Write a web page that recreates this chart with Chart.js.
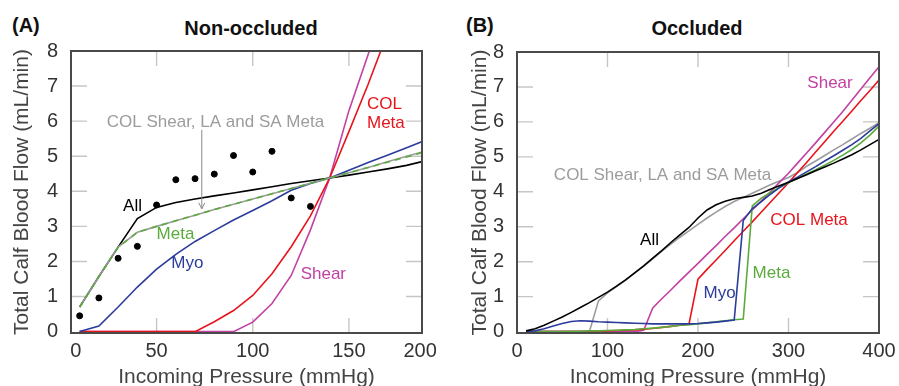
<!DOCTYPE html>
<html>
<head>
<meta charset="utf-8">
<script src="https://cdn.jsdelivr.net/npm/chart.js@4.4.0/dist/chart.umd.min.js"></script>
<style>
  body { margin: 0; background: #fff; width: 899px; height: 386px; overflow: hidden; position: relative; font-family: "Liberation Sans", Arial, sans-serif; }
  canvas { position: absolute; top: 0; }
  #chartA { left: 0; }
  #chartB { left: 450px; }
  .head { position: absolute; font-weight: bold; font-size: 20px; line-height: 20px; color: #111; white-space: nowrap; }
  .title { width: 200px; text-align: center; }
</style>
</head>
<body>
<div class="head" style="left:12px;top:15px">(A)</div>
<div class="head title" style="left:151px;top:18px">Non-occluded</div>
<div class="head" style="left:466px;top:15px">(B)</div>
<div class="head title" style="left:597px;top:18px">Occluded</div>
<canvas id="chartA" width="450" height="386"></canvas>
<canvas id="chartB" width="449" height="386"></canvas>
<script>
// ---- Panel A: non-occluded ----
const xA = [10, 20, 30, 40, 50, 60, 70, 80, 90, 100, 110, 120, 130, 140, 150, 160, 170, 180, 190];
const allA     = [0.70, 1.57, 2.41, 3.22, 3.54, 3.68, 3.78, 3.87, 3.95, 4.04, 4.13, 4.22, 4.30, 4.38, 4.46, 4.55, 4.64, 4.74, 4.87];
const metaA    = [0.70, 1.57, 2.41, 2.83, 3.00, 3.16, 3.32, 3.48, 3.63, 3.78, 3.93, 4.08, 4.23, 4.38, 4.53, 4.68, 4.83, 4.98, 5.13];
const grayA    = [0.70, 1.57, 2.41, 2.83, 3.00, 3.16, 3.32, 3.48, 3.63, 3.78, 3.93, 4.08, 4.23, 4.38, 4.53, 4.68, 4.84, 5.00, 5.15];
const myoA     = [0.00, 0.16, 0.70, 1.27, 1.78, 2.20, 2.57, 2.88, 3.18, 3.45, 3.73, 4.03, 4.22, 4.38, 4.60, 4.82, 5.03, 5.24, 5.46];
const colMetaA = [0, 0, 0, 0, 0, 0, 0, 0.28, 0.60, 1.03, 1.65, 2.42, 3.30, 4.38, 5.70, 7.05, 8.50, 9.9, 11.3];
const shearA   = [0, 0, 0, 0, 0, 0, 0, 0, 0, 0.27, 0.80, 1.60, 2.90, 4.38, 6.30, 7.90, 9.60, 11.3, 13.0];
const dotXA = [10, 20, 30, 40, 50, 60, 70, 80, 90, 100, 110, 120, 130];
const dotYA = [0.45, 0.96, 2.09, 2.43, 3.61, 4.33, 4.36, 4.49, 5.02, 4.55, 5.14, 3.81, 3.57];
const xRangeA = [5.5, 188];
const xTickPosA = [8, 50, 100, 150, 187];
const xTickLabelsA = ['0', '50', '100', '150', '200'];

// ---- Panel B: occluded ----
const xB = [10, 20, 30, 40, 50, 60, 70, 80, 90, 100, 110, 120, 130, 140, 150, 160, 170, 180, 190, 200,
            210, 220, 230, 240, 250, 260, 270, 280, 290, 300, 310, 320, 330, 340, 350, 360, 370, 380, 390, 400];
const allB     = [0.02, 0.08, 0.18, 0.30, 0.42, 0.55, 0.69, 0.83, 0.98, 1.13, 1.30, 1.48, 1.68, 1.88, 2.10, 2.32, 2.55, 2.77, 2.98, 3.25,
                  3.48, 3.63, 3.73, 3.80, 3.84, 3.88, 3.96, 4.07, 4.17, 4.27, 4.38, 4.49, 4.60, 4.71, 4.82, 4.94, 5.06, 5.20, 5.35, 5.50];
const grayB    = [0, 0, 0, 0, 0, 0, 0, 0, 0.88, 1.11, 1.29, 1.47, 1.67, 1.87, 2.08, 2.30, 2.50, 2.70, 2.88, 3.07,
                  3.25, 3.42, 3.58, 3.72, 3.84, 3.96, 4.08, 4.20, 4.31, 4.41, 4.55, 4.73, 4.88, 5.04, 5.20, 5.35, 5.51, 5.67, 5.82, 5.98];
const myoB     = [0, 0.02, 0.08, 0.16, 0.23, 0.29, 0.31, 0.30, 0.28, 0.27, 0.26, 0.25, 0.24, 0.23, 0.22, 0.22, 0.22, 0.22, 0.22, 0.23,
                  0.25, 0.27, 0.30, 0.33, 3.18, 3.52, 3.72, 3.93, 4.12, 4.28, 4.42, 4.57, 4.72, 4.88, 5.03, 5.19, 5.35, 5.53, 5.74, 5.95];
const metaB    = [0, 0, 0, 0, 0, 0.01, 0.01, 0.02, 0.02, 0.03, 0.04, 0.05, 0.06, 0.08, 0.10, 0.12, 0.15, 0.18, 0.20, 0.22,
                  0.25, 0.28, 0.31, 0.34, 0.36, 3.60, 3.82, 3.98, 4.12, 4.26, 4.39, 4.51, 4.63, 4.76, 4.90, 5.05, 5.21, 5.40, 5.62, 5.88];
const colMetaB = [0, 0, 0, 0, 0, 0, 0, 0, 0.01, 0.02, 0.03, 0.04, 0.05, 0.07, 0.09, 0.12, 0.15, 0.18, 0.21, 1.50,
                  1.78, 2.05, 2.32, 2.60, 2.87, 3.14, 3.42, 3.70, 3.98, 4.26, 4.55, 4.84, 5.14, 5.43, 5.73, 6.02, 6.31, 6.61, 6.90, 7.20];
const shearB   = [0, 0, 0, 0, 0, 0, 0, 0, 0, 0, 0, 0, 0, 0.04, 0.68, 0.94, 1.19, 1.45, 1.70, 1.95,
                  2.21, 2.46, 2.72, 2.97, 3.23, 3.48, 3.74, 4.00, 4.27, 4.53, 4.82, 5.11, 5.40, 5.70, 6.00, 6.30, 6.62, 6.94, 7.26, 7.58];
const xRangeB = [0, 400];
const xTickPosB = [0, 100, 200, 300, 400];
const xTickLabelsB = ['0', '100', '200', '300', '400'];

const yTicks = [0, 1, 2, 3, 4, 5, 6, 7, 8];
const yRange = [-0.04, 8];

const C = {
  all: '#000000', meta: '#5aab3c', gray: '#9c9c9c', myo: '#2b3c9b', col: '#e8141c', shear: '#c241a3'
};
const FONT = '"Liberation Sans", Arial, sans-serif';

function pts(xs, ys) {
  return xs.map((x, i) => ({ x: x, y: ys[i] }));
}

function line(label, xs, ys, color, dash) {
  return {
    label: label,
    data: pts(xs, ys),
    borderColor: color,
    borderWidth: 1.6,
    borderDash: dash || [],
    pointRadius: 0,
    tension: 0,
    fill: false
  };
}

// frame, short inner ticks, text labels
function decoPlugin(cfg) {
  return {
    id: 'deco',
    beforeDatasetsDraw(chart) {
      const { ctx, chartArea: a, scales } = chart;
      ctx.save();
      ctx.strokeStyle = '#c6c6c6';
      ctx.lineWidth = 1.4;
      ctx.beginPath();
      cfg.innerX.forEach(v => {
        const px = scales.x.getPixelForValue(v);
        ctx.moveTo(px, a.top); ctx.lineTo(px, a.top + 15);
        ctx.moveTo(px, a.bottom); ctx.lineTo(px, a.bottom - 15);
      });
      yTicks.slice(1, -1).forEach(v => {
        const py = scales.y.getPixelForValue(v);
        ctx.moveTo(a.left, py); ctx.lineTo(a.left + 16, py);
        ctx.moveTo(a.right, py); ctx.lineTo(a.right - 16, py);
      });
      ctx.stroke();
      ctx.restore();
    },
    afterDatasetsDraw(chart) {
      const { ctx, scales } = chart;
      ctx.save();
      ctx.font = '17px ' + FONT;
      ctx.textBaseline = 'middle';
      cfg.notes.forEach(n => {
        ctx.fillStyle = n.color;
        ctx.textAlign = n.align || 'center';
        ctx.fillText(n.text, scales.x.getPixelForValue(n.x), scales.y.getPixelForValue(n.y));
      });
      if (cfg.arrow) {
        const ax = scales.x.getPixelForValue(cfg.arrow.x);
        const y0 = scales.y.getPixelForValue(cfg.arrow.y0);
        const y1 = scales.y.getPixelForValue(cfg.arrow.y1);
        ctx.strokeStyle = '#8a8a8a';
        ctx.lineWidth = 1;
        ctx.beginPath();
        ctx.moveTo(ax, y0); ctx.lineTo(ax, y1);
        ctx.moveTo(ax - 3, y1 - 6); ctx.lineTo(ax, y1); ctx.lineTo(ax + 3, y1 - 6);
        ctx.stroke();
      }
      ctx.restore();
    },
    afterDraw(chart) {
      const { ctx, chartArea: a } = chart;
      ctx.save();
      ctx.strokeStyle = '#4a4a4a';
      ctx.lineWidth = 2;
      ctx.strokeRect(a.left, a.top, a.right - a.left, a.bottom - a.top);
      ctx.restore();
    }
  };
}

function makeChart(id, cfg) {
  return new Chart(document.getElementById(id), {
    type: 'line',
    data: { datasets: cfg.datasets },
    options: {
      responsive: false,
      animation: false,
      devicePixelRatio: 1,
      layout: { padding: { left: 0, right: cfg.padRight, top: cfg.padTop, bottom: 0 } },
      plugins: { legend: { display: false }, tooltip: { enabled: false }, title: { display: false } },
      scales: {
        x: {
          type: 'linear',
          min: cfg.xRange[0],
          max: cfg.xRange[1],
          grid: { display: false },
          border: { display: false },
          afterBuildTicks: s => { s.ticks = cfg.xTickPos.map(v => ({ value: v })); },
          ticks: {
            autoSkip: false,
            maxRotation: 0,
            padding: -2,
            color: '#333',
            font: { family: FONT, size: 20 },
            callback: (v, i) => cfg.xTickLabels[i]
          },
          title: {
            display: true,
            text: 'Incoming Pressure (mmHg)',
            color: '#444',
            font: { family: FONT, size: 21, lineHeight: 1 },
            padding: { top: 0, bottom: -2 }
          },
          afterFit: s => { s.height = 53; }
        },
        y: {
          min: yRange[0],
          max: yRange[1],
          grid: { display: false },
          border: { display: false },
          afterBuildTicks: s => { s.ticks = yTicks.map(v => ({ value: v })); },
          ticks: {
            padding: 5,
            color: '#333',
            font: { family: FONT, size: 20 }
          },
          title: {
            display: true,
            text: 'Total Calf Blood Flow (mL/min)',
            color: '#444',
            font: { family: FONT, size: 21, lineHeight: 1 },
            padding: { top: cfg.yTitlePad, bottom: 0 }
          },
          afterFit: s => { s.width = cfg.yWidth; }
        }
      }
    },
    plugins: [decoPlugin(cfg)]
  });
}

makeChart('chartA', {
  xRange: xRangeA, xTickPos: xTickPosA, xTickLabels: xTickLabelsA,
  innerX: [50, 100, 150],
  padTop: 51, padRight: 28, yWidth: 71, yTitlePad: 12,
  datasets: [
    {
      label: 'Data', data: pts(dotXA, dotYA), showLine: false,
      pointRadius: 3, pointBackgroundColor: '#000', pointBorderColor: '#000', borderColor: '#000'
    },
    line('Meta', xA, metaA, C.meta, [6, 5]),
    line('COL Shear, LA and SA Meta', xA, grayA, C.gray),
    line('All', xA, allA, C.all),
    line('Myo', xA, myoA, C.myo),
    line('COL Meta', xA, colMetaA, C.col),
    line('Shear', xA, shearA, C.shear)
  ],
  notes: [
    { text: 'COL Shear, LA and SA Meta', x: 80.6, y: 5.98, color: '#9c9c9c' },
    { text: 'All', x: 37.5, y: 3.58, color: '#000' },
    { text: 'Meta', x: 59.8, y: 2.76, color: C.meta },
    { text: 'Myo', x: 66, y: 1.96, color: C.myo },
    { text: 'Shear', x: 136.7, y: 1.62, color: C.shear },
    { text: 'COL', x: 159.4, y: 6.48, color: C.col, align: 'left' },
    { text: 'Meta', x: 159.4, y: 5.94, color: C.col, align: 'left' }
  ],
  arrow: { x: 73.5, y0: 5.75, y1: 3.5 }
});

makeChart('chartB', {
  xRange: xRangeB, xTickPos: xTickPosB, xTickLabels: xTickLabelsB,
  innerX: [100, 200, 300],
  padTop: 52, padRight: 20, yWidth: 67, yTitlePad: 20,
  datasets: [
    line('All', xB, allB, C.all),
    line('Myo', xB, myoB, C.myo),
    line('Meta', xB, metaB, C.meta),
    line('COL Meta', xB, colMetaB, C.col),
    line('Shear', xB, shearB, C.shear),
    line('COL Shear, LA and SA Meta', xB, grayB, C.gray)
  ],
  notes: [
    { text: 'Shear', x: 345.9, y: 7.11, color: C.shear },
    { text: 'COL Shear, LA and SA Meta', x: 160.8, y: 4.46, color: '#9c9c9c' },
    { text: 'COL Meta', x: 322.7, y: 3.18, color: C.col },
    { text: 'All', x: 146.4, y: 2.61, color: '#000' },
    { text: 'Meta', x: 281.2, y: 1.67, color: C.meta },
    { text: 'Myo', x: 223.8, y: 1.10, color: C.myo }
  ]
});
</script>
</body>
</html>
